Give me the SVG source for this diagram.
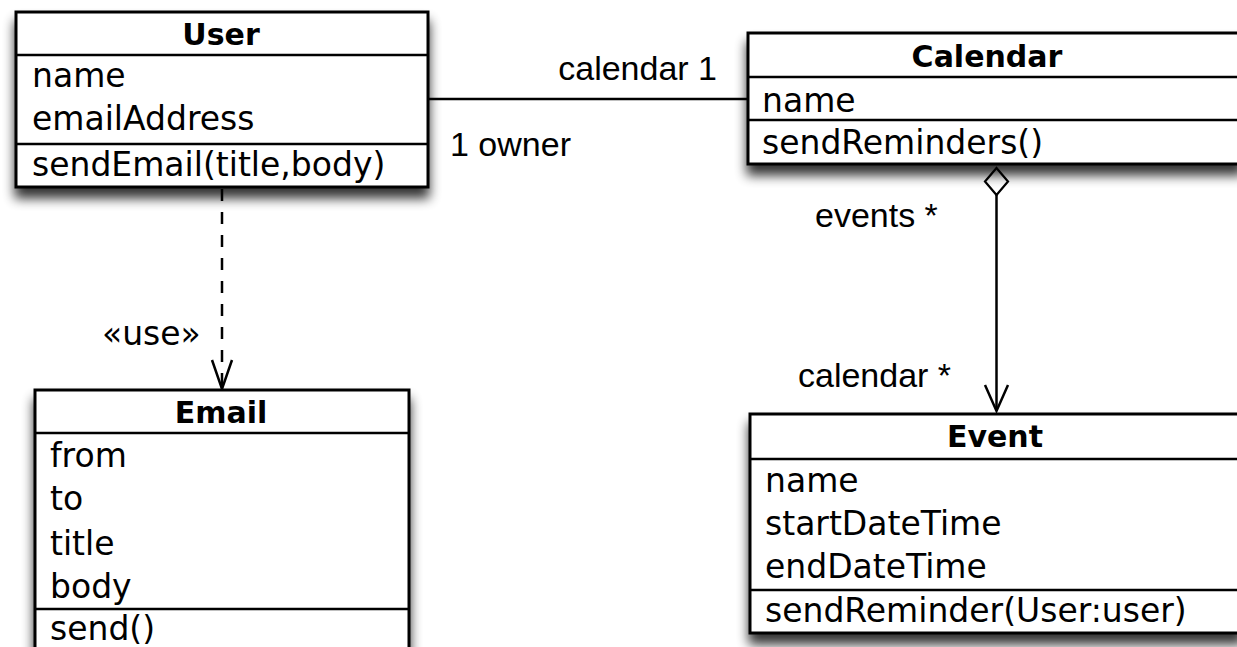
<svg xmlns="http://www.w3.org/2000/svg" width="1237" height="647" viewBox="0 0 1237 647">
<style>
.box{fill:#fff;stroke:#000;stroke-width:3}
.sep{stroke:#000;stroke-width:2.5}
.title{font-family:"DejaVu Sans",sans-serif;font-weight:bold;font-size:30px;text-anchor:middle;fill:#000}
.attr{font-family:"DejaVu Sans",sans-serif;font-size:33px;fill:#000}
.lbl{font-family:"Liberation Sans",Arial,sans-serif;font-size:34px;fill:#000}
.conn{fill:none;stroke:#000;stroke-width:2.5}
</style>
<defs>
<filter id="sh" x="-10%" y="-15%" width="130%" height="150%">
<feGaussianBlur in="SourceAlpha" stdDeviation="6"/>
<feOffset dx="0" dy="10" result="b"/>
<feComponentTransfer><feFuncA type="linear" slope="0.8"/></feComponentTransfer>
<feMerge><feMergeNode/><feMergeNode in="SourceGraphic"/></feMerge>
</filter>
</defs>
<rect width="1237" height="647" fill="#fff"/>
<g id="connectors">
<line class="conn" x1="428" y1="99" x2="748" y2="99"/>
<text class="lbl" x="717" y="80" text-anchor="end">calendar 1</text>
<text class="lbl" x="450" y="156">1 owner</text>
<line class="conn" x1="222" y1="189" x2="222" y2="388" stroke-dasharray="12 11"/>
<polyline class="conn" points="212,360 222,389 232,360"/>
<text class="attr" x="102" y="345" font-size="29">«use»</text>
<polygon points="996.5,168 1008,181.5 996.5,195 985,181.5" fill="#fff" stroke="#000" stroke-width="2.2"/>
<line class="conn" x1="996.5" y1="195" x2="996.5" y2="411"/>
<polyline class="conn" points="985,385 996.5,411 1008,385"/>
<text class="lbl" x="815" y="227">events *</text>
<text class="lbl" x="798" y="387">calendar *</text>
</g>
<g id="user">
<rect class="box" x="16" y="12" width="412" height="175" filter="url(#sh)"/>
<line class="sep" x1="16" y1="55" x2="428" y2="55"/>
<line class="sep" x1="16" y1="144" x2="428" y2="144"/>
<text class="title" x="221" y="45">User</text>
<text class="attr" x="32" y="87">name</text>
<text class="attr" x="32" y="130">emailAddress</text>
<text class="attr" x="32" y="176">sendEmail(title,body)</text>
</g>
<g id="calendar">
<rect class="box" x="748" y="33" width="494" height="131" filter="url(#sh)"/>
<line class="sep" x1="748" y1="77" x2="1242" y2="77"/>
<line class="sep" x1="748" y1="120" x2="1242" y2="120"/>
<text class="title" x="987" y="67">Calendar</text>
<text class="attr" x="762" y="112">name</text>
<text class="attr" x="762" y="154">sendReminders()</text>
</g>
<g id="email">
<rect class="box" x="35" y="390" width="374" height="280" filter="url(#sh)"/>
<line class="sep" x1="35" y1="433" x2="409" y2="433"/>
<line class="sep" x1="35" y1="609" x2="409" y2="609"/>
<text class="title" x="221" y="423">Email</text>
<text class="attr" x="50" y="467">from</text>
<text class="attr" x="50" y="510">to</text>
<text class="attr" x="50" y="555">title</text>
<text class="attr" x="50" y="598">body</text>
<text class="attr" x="50" y="640">send()</text>
</g>
<g id="event">
<rect class="box" x="750" y="414" width="492" height="219" filter="url(#sh)"/>
<line class="sep" x1="750" y1="459" x2="1242" y2="459"/>
<line class="sep" x1="750" y1="590" x2="1242" y2="590"/>
<text class="title" x="995" y="447">Event</text>
<text class="attr" x="765" y="492">name</text>
<text class="attr" x="765" y="535">startDateTime</text>
<text class="attr" x="765" y="578">endDateTime</text>
<text class="attr" x="765" y="622">sendReminder(User:user)</text>
</g>
</svg>
